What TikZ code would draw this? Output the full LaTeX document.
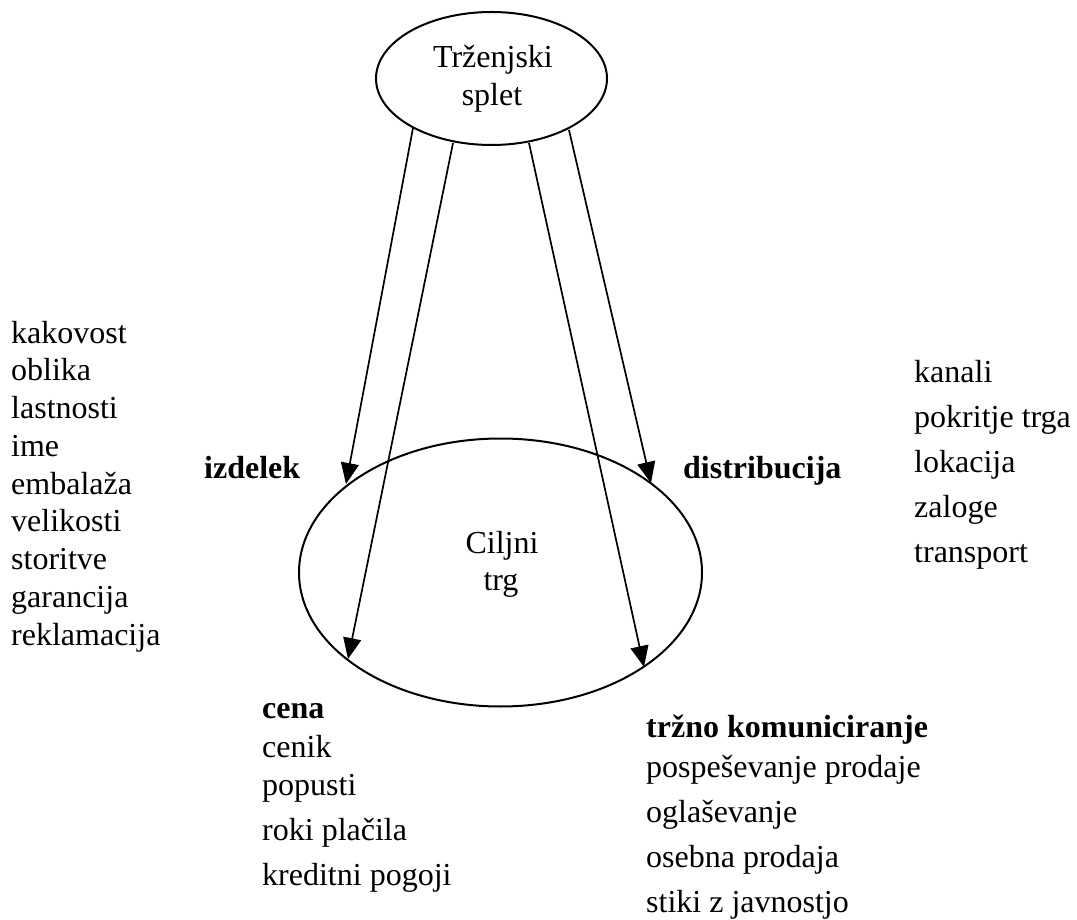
\documentclass[tikz,border=0pt]{standalone}
\usepackage{fontspec}
\setmainfont{Liberation Serif}
\usetikzlibrary{shapes.geometric,arrows.meta}
\tikzset{
  ell/.style={ellipse, draw, line width=2pt, inner sep=0pt},
  txt/.style={anchor=base west, inner sep=0pt, font=\fontsize{32}{38}\selectfont},
  ctxt/.style={anchor=base, inner sep=0pt, font=\fontsize{32}{38}\selectfont},
  btxt/.style={anchor=base west, inner sep=0pt, font=\fontsize{32}{38}\selectfont\bfseries},
  arr/.style={line width=1.7pt, -{Triangle[length=21pt,width=18pt]}},
}
\begin{document}
\begin{tikzpicture}[x=1pt,y=-1pt]
\useasboundingbox (0,0) rectangle (1077,920);
% ellipses
\node[ell, minimum width=231pt, minimum height=133pt] (top) at (491.5,78.5) {};
\node[ctxt] (topa) at (493,68) {Trženjski};
\node[ctxt] (topb) at (492,106) {splet};
\node[ell, minimum width=403pt, minimum height=268pt] (cilj) at (500.5,572.5) {};
\node[ctxt] (cilja) at (502,553) {Ciljni};
\node[ctxt] (ciljb) at (501,590) {trg};
% arrow endpoints
\coordinate (s1) at (413,128);
\coordinate (s2) at (453,143);
\coordinate (s3) at (529,143);
\coordinate (s4) at (569,130);
\coordinate (e1) at (346,484);
\coordinate (e2) at (348,659);
\coordinate (e3) at (644,667);
\coordinate (e4) at (651,483);
\draw[arr] (s1) -- (e1);
\draw[arr] (s2) -- (e2);
\draw[arr] (s3) -- (e3);
\draw[arr] (s4) -- (e4);
% headings
\node[btxt] (izd) at (204,478) {izdelek};
\node[btxt] (dist) at (683,478) {distribucija};
\node[btxt] (cena) at (262,718) {cena};
\node[btxt] (trzno) at (646,737) {tržno komuniciranje};
% left list
\foreach \t [count=\i] in {kakovost,oblika,lastnosti,ime,embalaža,velikosti,storitve,garancija,reklamacija}
  \node[txt, name=L\i] at (11,{343+37.75*(\i-1)}) {\t};
% right list
\foreach \t [count=\i] in {kanali,pokritje trga,lokacija,zaloge,transport}
  \node[txt, name=R\i] at (914,{382+45*(\i-1)}) {\t};
% cena list
\node[txt] (c1) at (262,757) {cenik};
\node[txt] (c2) at (262,795) {popusti};
\node[txt] (c3) at (262,840) {roki plačila};
\node[txt] (c4) at (262,885) {kreditni pogoji};
% trzno list
\node[txt] (t1) at (646,777) {pospeševanje prodaje};
\node[txt] (t2) at (646,822) {oglaševanje};
\node[txt] (t3) at (646,867) {osebna prodaja};
\node[txt] (t4) at (646,912) {stiki z javnostjo};
\end{tikzpicture}
\end{document}
